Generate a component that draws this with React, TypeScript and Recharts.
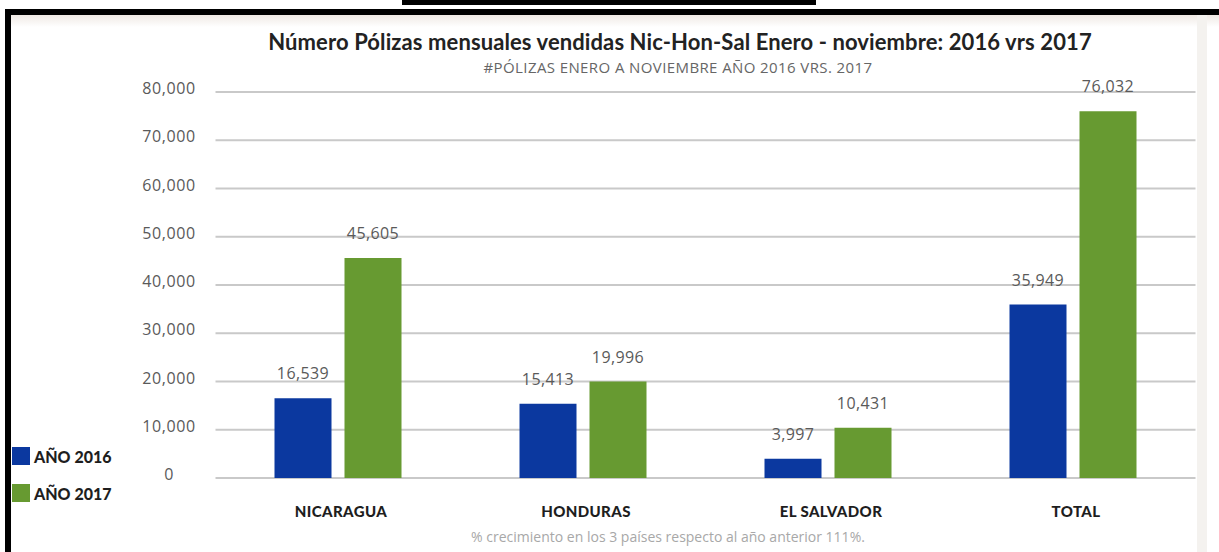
import React from 'react';
import { BarChart, Bar, XAxis, YAxis, CartesianGrid, Legend, LabelList } from 'recharts';

const categories = ['NICARAGUA', 'HONDURAS', 'EL SALVADOR', 'TOTAL'];
const polizas2016 = [16539, 15413, 3997, 35949];
const polizas2017 = [45605, 19996, 10431, 76032];
const yTicks = [0, 10000, 20000, 30000, 40000, 50000, 60000, 70000, 80000];
const seriesNames = ['AÑO 2016', 'AÑO 2017'];
const titleText = 'Número Pólizas mensuales vendidas Nic-Hon-Sal Enero - noviembre: 2016 vrs 2017';
const subtitleText = '#PÓLIZAS ENERO A NOVIEMBRE AÑO 2016 VRS. 2017';
const footnoteText = '% crecimiento en los 3 países respecto al año anterior 111%.';

const BLUE = '#0b389f';
const GREEN = '#679a31';
const FONT = '"Open Sans", "Noto Sans", sans-serif';
const BOLD_FONT = 'Lato, "Noto Sans", sans-serif';

const data = categories.map((c, i) => ({
  category: c,
  y2016: polizas2016[i],
  y2017: polizas2017[i],
}));

const fmt = (v: number) => v.toLocaleString('en-US');

const YTick = (props: any) => {
  const { x, y, payload } = props;
  return (
    <text x={x - 46.5} y={y} dy={2} textAnchor="middle" fill="#5a5a5a" fontSize={16} letterSpacing={0.6} fontFamily={FONT}>
      {fmt(payload.value)}
    </text>
  );
};

const XTick = (props: any) => {
  const { x, y, payload } = props;
  return (
    <text x={x + 3} y={y} dy={39} textAnchor="middle" fill="#1e1e1e" fontSize={15} fontWeight={900} letterSpacing={0.4} fontFamily={BOLD_FONT}>
      {payload.value}
    </text>
  );
};

const LegendContent = (props: any) => {
  const { payload } = props;
  return (
    <div style={{ display: 'flex', flexDirection: 'column', gap: 19 }}>
      {(payload || []).map((p: any) => (
        <div key={p.value} style={{ display: 'flex', alignItems: 'center', height: 18 }}>
          <div style={{ width: 18, height: 18, background: p.color, marginRight: 4 }} />
          <span style={{ fontFamily: BOLD_FONT, fontWeight: 900, fontSize: 16, color: '#1e1e1e', whiteSpace: 'nowrap' }}>
            {p.value}
          </span>
        </div>
      ))}
    </div>
  );
};

export default function App() {
  return (
    <div style={{ position: 'fixed', left: 0, top: 0, width: 1219, height: 552, background: '#ffffff', overflow: 'hidden' }}>
      {/* frame decorations */}
      <div style={{ position: 'absolute', left: 402, top: 0, width: 414, height: 5, background: '#000' }} />
      <div style={{ position: 'absolute', left: 5, top: 9, width: 1214, height: 6, background: '#000' }} />
      <div style={{ position: 'absolute', left: 5, top: 9, width: 6, height: 543, background: '#000' }} />
      <div style={{ position: 'absolute', left: 11, top: 15, width: 1208, height: 12, background: 'linear-gradient(#efe9e4, #ffffff)' }} />
      <div style={{ position: 'absolute', left: 1197, top: 15, width: 10, height: 537, background: '#f4f2ef' }} />

      <div style={{ position: 'absolute', left: 0, top: 28, width: 1360, textAlign: 'center', fontFamily: BOLD_FONT, fontWeight: 700, fontSize: 22, color: '#222', whiteSpace: 'nowrap', letterSpacing: 0.1 }}>
        {titleText}
      </div>
      <div style={{ position: 'absolute', left: 0, top: 57, width: 1356, textAlign: 'center', fontFamily: FONT, fontSize: 15, color: '#666', whiteSpace: 'nowrap', letterSpacing: 0.4 }}>
        {subtitleText}
      </div>
      <div style={{ position: 'absolute', left: 0, top: 527, width: 1336, textAlign: 'center', fontFamily: FONT, fontSize: 14, color: '#a8a8a8', whiteSpace: 'nowrap' }}>
        {footnoteText}
      </div>

      <div style={{ position: 'absolute', left: 0, top: 0 }}>
        <BarChart
          width={1219}
          height={552}
          data={data}
          margin={{ top: 92, right: 23.5, bottom: 34, left: 135.5 }}
          barSize={57}
          barGap={13}
        >
          <CartesianGrid horizontal vertical={false} stroke="#c9c9c9" strokeWidth={2} />
          <XAxis
            dataKey="category"
            axisLine={false}
            tickLine={false}
            tickSize={0}
            tickMargin={0}
            height={40}
            interval={0}
            tick={<XTick />}
          />
          <YAxis
            type="number"
            domain={[0, 80000]}
            ticks={yTicks}
            axisLine={false}
            tickLine={false}
            tickSize={0}
            tickMargin={0}
            width={80}
            interval={0}
            tick={<YTick />}
          />
          <Legend
            layout="vertical"
            align="center"
            verticalAlign="middle"
            content={<LegendContent />}
            wrapperStyle={{ left: 12, top: 447, width: 'auto', height: 'auto' }}
          />
          <Bar dataKey="y2016" name={seriesNames[0]} fill={BLUE} isAnimationActive={false}>
            <LabelList dataKey="y2016" position="top" offset={19} formatter={(v: any) => fmt(Number(v))} fill="#5a5a5a" fontSize={16} letterSpacing={0.4} fontFamily={FONT} />
          </Bar>
          <Bar dataKey="y2017" name={seriesNames[1]} fill={GREEN} isAnimationActive={false}>
            <LabelList dataKey="y2017" position="top" offset={19} formatter={(v: any) => fmt(Number(v))} fill="#5a5a5a" fontSize={16} letterSpacing={0.4} fontFamily={FONT} />
          </Bar>
        </BarChart>
      </div>
    </div>
  );
}
